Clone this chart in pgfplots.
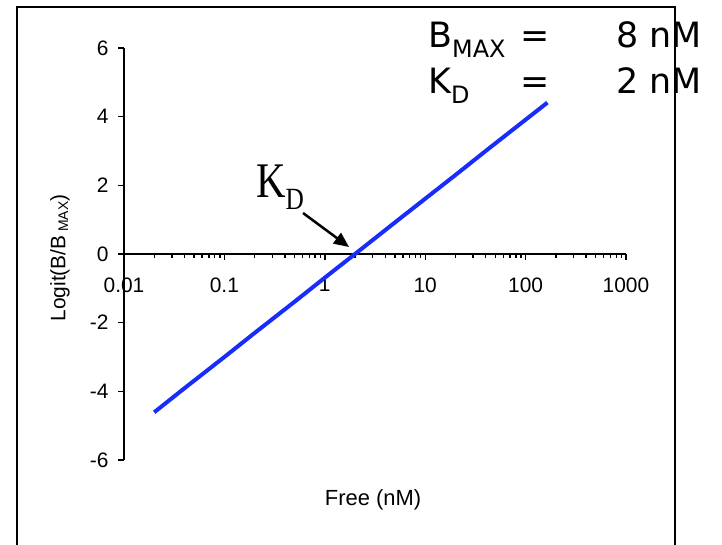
\documentclass[border=0pt]{standalone}
\usepackage{pgfplots}
\pgfplotsset{compat=1.18}
\usepackage{fontspec}
\setmainfont{Liberation Sans}
\newfontfamily\dejavu{DejaVu Sans}
\newfontfamily\serifK{Liberation Serif}
\usetikzlibrary{arrows.meta}
\definecolor{curveblue}{RGB}{25,45,250}
\begin{document}
\begin{tikzpicture}
\useasboundingbox (0,0) rectangle (722bp,-545bp);
\draw[line width=2bp] (17bp,-546bp) -- (17bp,-7bp) -- (675bp,-7bp) -- (675bp,-546bp);
\begin{axis}[at={(124bp,-460bp)}, anchor=south west, scale only axis,
  width=502bp, height=412bp,
  xmode=log, xmin=0.01, xmax=1000, ymin=-6, ymax=6,
  axis x line=middle, axis y line=left,
  axis line style={-, line width=1.6bp},
  hide obscured x ticks=false, hide obscured y ticks=false,
  xtick={0.01,0.1,1,10,100,1000},
  xticklabels={0.01,0.1,1,10,100,1000},
  minor xtick={0.02,0.03,0.04,0.05,0.06,0.07,0.08,0.09,0.2,0.3,0.4,0.5,0.6,0.7,0.8,0.9,2,3,4,5,6,7,8,9,20,30,40,50,60,70,80,90,200,300,400,500,600,700,800,900},
  ytick={-6,-4,-2,0,2,4,6},
  yticklabels={-6,-4,-2,0,2,4,6},
  tick align=outside, major tick length=6bp, minor tick length=4bp,
  tick style={black, line width=1.4bp},
  tick label style={font=\fontsize{21}{21}\selectfont},
  xticklabel style={yshift=-14bp},
  yticklabel style={xshift=-6bp},
  clip=false]
\addplot[curveblue, line width=4bp] coordinates {
(0.02,-4.61) (0.04,-3.91) (0.1,-3.00) (0.2,-2.30) (0.5,-1.39) (1,-0.69)
(2,0.00) (5,0.92) (10,1.61) (20,2.30) (40,3.00) (80,3.69) (165,4.41)};
\end{axis}
\node[font=\fontsize{22}{22}\selectfont] at (373bp,-500bp) {Free (nM)};
\node[rotate=90, font=\fontsize{21}{21}\selectfont] at (60bp,-258bp) {Logit(B/B\,\raisebox{-0.25ex}{\fontsize{14}{14}\selectfont MAX})};
\node[inner sep=0, anchor=base west, font=\dejavu\fontsize{35}{35}\selectfont] at (428bp,-47bp) {B\raisebox{-10bp}{\fontsize{24}{24}\selectfont MAX}};
\node[inner sep=0, anchor=base west, font=\dejavu\fontsize{35}{35}\selectfont] at (520bp,-47bp) {=};
\node[inner sep=0, anchor=base west, font=\dejavu\fontsize{35}{35}\selectfont] at (616bp,-47bp) {8 nM};
\node[inner sep=0, anchor=base west, font=\dejavu\fontsize{35}{35}\selectfont] at (428bp,-93bp) {K\raisebox{-10bp}{\fontsize{24}{24}\selectfont D}};
\node[inner sep=0, anchor=base west, font=\dejavu\fontsize{35}{35}\selectfont] at (520bp,-93bp) {=};
\node[inner sep=0, anchor=base west, font=\dejavu\fontsize{35}{35}\selectfont] at (616bp,-93bp) {2 nM};
\node[inner sep=0, anchor=base west] at (256bp,-197bp) {\scalebox{0.82}[1]{\serifK\fontsize{50}{50}\selectfont K\raisebox{-12bp}{\fontsize{31}{31}\selectfont D}}};
\draw[line width=2.5bp, -{Triangle[length=15bp,width=13bp]}] (303bp,-213bp) -- (349bp,-247bp);
\end{tikzpicture}
\end{document}
